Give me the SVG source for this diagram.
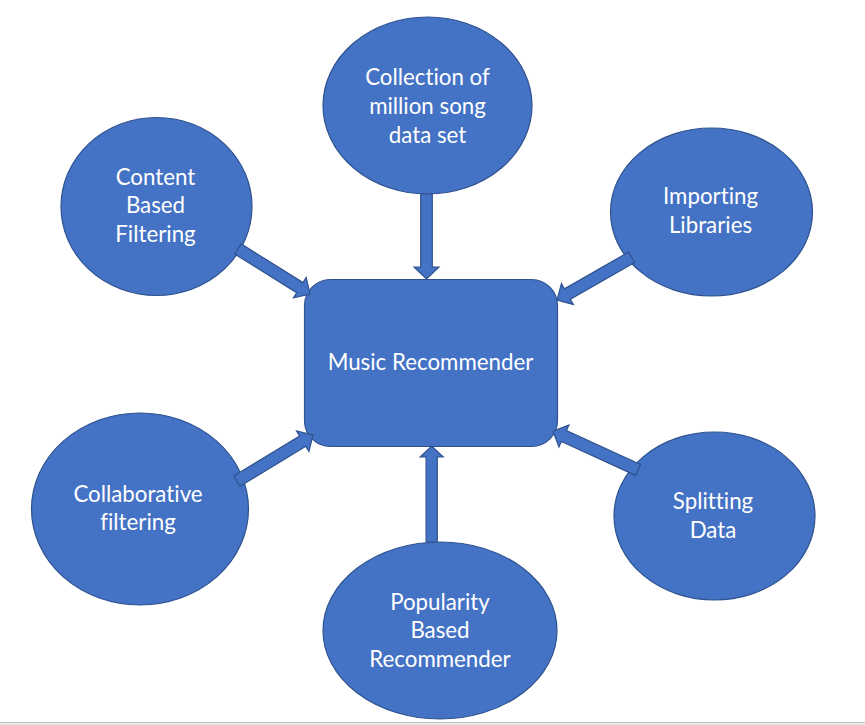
<svg xmlns="http://www.w3.org/2000/svg" width="865" height="725" viewBox="0 0 865 725">
<style>
.shape{fill:#4472C4;stroke:#2F528F;stroke-width:1.2}
.lbl{fill:#FFFFFF;font-family:Lato,"Open Sans","Liberation Sans",sans-serif;font-size:22.3px;text-anchor:middle;font-variant-ligatures:none}
</style>
<rect x="0" y="0" width="865" height="725" fill="#FFFFFF"/>
<g id="music-recommender">
<rect class="shape" x="304.5" y="279.5" width="253" height="167" rx="26" ry="26"/>
<text class="lbl" x="430.5" y="370">Music Recommender</text>
</g>
<g id="collection">
<ellipse class="shape" cx="427.5" cy="105.5" rx="104.5" ry="88.5"/>
<text class="lbl" x="427.5" y="85">Collection of</text>
<text class="lbl" x="427.5" y="114">million song</text>
<text class="lbl" x="427.5" y="143">data set</text>
</g>
<g id="content-based">
<ellipse class="shape" cx="156.5" cy="206.5" rx="95.5" ry="89"/>
<text class="lbl" x="155.5" y="185">Content</text>
<text class="lbl" x="155.5" y="213">Based</text>
<text class="lbl" x="155.5" y="242">Filtering</text>
</g>
<g id="importing">
<ellipse class="shape" cx="711.5" cy="212" rx="101" ry="84"/>
<text class="lbl" x="710.5" y="204">Importing</text>
<text class="lbl" x="710.5" y="233">Libraries</text>
</g>
<g id="collaborative">
<ellipse class="shape" cx="140" cy="509" rx="108.5" ry="96"/>
<text class="lbl" x="138" y="502">Collaborative</text>
<text class="lbl" x="138" y="530">filtering</text>
</g>
<g id="splitting">
<ellipse class="shape" cx="714.5" cy="516" rx="100.5" ry="84"/>
<text class="lbl" x="713" y="509">Splitting</text>
<text class="lbl" x="713" y="538">Data</text>
</g>
<g id="popularity">
<ellipse class="shape" cx="440" cy="630.5" rx="117" ry="88.5"/>
<text class="lbl" x="440" y="610">Popularity</text>
<text class="lbl" x="440" y="638">Based</text>
<text class="lbl" x="440" y="667">Recommender</text>
</g>
<g id="connectors">
<polygon class="shape" transform="translate(426.5,279) rotate(90)" points="-85,-5.8 -12,-5.8 -12,-12.5 0,0 -12,12.5 -12,5.8 -85,5.8"/>
<polygon class="shape" transform="translate(431.7,446) rotate(-90)" points="-96,-5.6 -11,-5.6 -11,-11.5 0,0 -11,11.5 -11,5.6 -96,5.6"/>
<polygon class="shape" transform="translate(310,294) rotate(32)" points="-85,-6 -12,-6 -12,-12 0,0 -12,12 -12,6 -85,6"/>
<polygon class="shape" transform="translate(557,300) rotate(150.2)" points="-86,-6 -12,-6 -12,-12 0,0 -12,12 -12,6 -86,6"/>
<polygon class="shape" transform="translate(313,435) rotate(-31.2)" points="-89,-6 -12,-6 -12,-12 0,0 -12,12 -12,6 -89,6"/>
<polygon class="shape" transform="translate(553,431) rotate(204.6)" points="-93.5,-6 -12,-6 -12,-12 0,0 -12,12 -12,6 -93.5,6"/>
</g>
<rect x="0" y="722" width="865" height="1" fill="#C4C4C4"/>
<rect x="0" y="723" width="865" height="2" fill="#E8E8E8"/>
</svg>
